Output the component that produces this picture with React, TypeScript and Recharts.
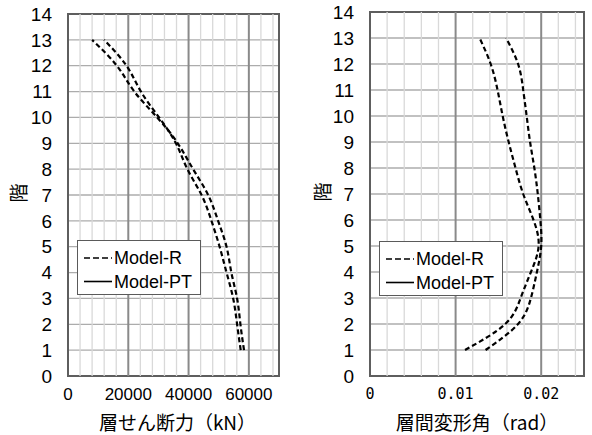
import React from 'react'
import {
  LineChart, Line, XAxis, YAxis, CartesianGrid, ReferenceLine, ReferenceArea, Legend,
} from 'recharts'

// floors 1..13
const floors = [1, 2, 3, 4, 5, 6, 7, 8, 9, 10, 11, 12, 13]
const floorTicks = [0, 1, 2, 3, 4, 5, 6, 7, 8, 9, 10, 11, 12, 13, 14]
const seriesNames = ['Model-R', 'Model-PT']

// story shear (kN)
const shearModelR = [58400, 57200, 56100, 54200, 52600, 49800, 46500, 41500, 36400, 29600, 22000, 16200, 8000]
const shearModelPT = [57300, 56100, 54800, 52600, 50300, 47600, 44300, 39600, 35800, 30200, 24200, 19400, 12000]
const shearTicks = [0, 20000, 40000, 60000]
const shearMajor = [20000, 40000, 60000]
const shearMinor = [4000, 8000, 12000, 16000, 24000, 28000, 32000, 36000, 44000, 48000, 52000, 56000, 64000, 68000]

// story drift angle (rad)
const driftModelR = [0.0111, 0.0158, 0.0176, 0.0188, 0.0197, 0.0191, 0.0179, 0.0170, 0.0162, 0.0155, 0.0149, 0.0141, 0.0128]
const driftModelPT = [0.0135, 0.0173, 0.0188, 0.0195, 0.0200, 0.0199, 0.0196, 0.0192, 0.0187, 0.0183, 0.0179, 0.0173, 0.0159]
const driftTicks = [0, 0.01, 0.02]
const driftMajor = [0.01, 0.02]
const driftMinor = [0.002, 0.004, 0.006, 0.008, 0.012, 0.014, 0.016, 0.018, 0.022, 0.024]

const shearRows = floors.map((f, i) => ({ floor: f, modelR: shearModelR[i], modelPT: shearModelPT[i] }))
const driftRows = floors.map((f, i) => ({ floor: f, modelR: driftModelR[i], modelPT: driftModelPT[i] }))

const JP = '"Noto Sans CJK JP", sans-serif'
const legendDash = ['6 3', undefined]

const LegendBox = () => (
  <div style={{ width: 122, height: 53, border: '1.5px solid #5a5a5a', background: '#fff' }}>
    <svg width={122} height={53} style={{ display: 'block' }}>
      {seriesNames.map((name, i) => (
        <g key={name}>
          <line x1={6} x2={34} y1={17 + i * 23.5} y2={17 + i * 23.5} stroke="#000" strokeWidth={1.6}
            strokeDasharray={legendDash[i]} />
          <text x={36} y={17 + i * 23.5} dy="0.36em" fontSize={18}
            fontFamily='"Liberation Sans", Arial, sans-serif' fill="#000">{name}</text>
        </g>
      ))}
    </svg>
  </div>
)

const floorTitle = (dx: number) => (p: any) => {
  const vb = p.viewBox || { x: 0, y: 0, width: 0, height: 0 }
  const cx = vb.x + dx
  const cy = vb.y + vb.height / 2 - 2
  return (
    <text x={cx} y={cy} transform={`rotate(-90 ${cx} ${cy})`} textAnchor="middle" dominantBaseline="central"
      fontSize={19} fontFamily={JP} fill="#000">階</text>
  )
}

type PanelProps = {
  rows: any[]
  left: number
  width: number
  top: number
  right: number
  yWidth: number
  xMax: number
  xTicks: number[]
  major: number[]
  minor: number[]
  xFormat: (v: number) => string
  xFont: any
  xTitle: string
  titleShift: number
  legendPos: { left: number, top: number }
}

function Panel(p: PanelProps) {
  return (
    <div style={{ position: 'absolute', left: p.left, top: 0 }}>
      <LineChart layout="vertical" width={p.width} height={435} data={p.rows}
        margin={{ top: p.top, right: p.right, bottom: 0, left: 0 }}>
        <CartesianGrid vertical={false} stroke="#acacac" strokeWidth={1.3} />
        {p.minor.map(v => <ReferenceLine key={'m' + v} x={v} stroke="#d9d9d9" strokeWidth={1.3} />)}
        {p.major.map(v => <ReferenceLine key={'M' + v} x={v} stroke="#8a8a8a" strokeWidth={2} />)}
        <XAxis type="number" domain={[0, p.xMax]} ticks={p.xTicks} interval={0} height={59}
          axisLine={false} tickLine={false} tickMargin={6} tickFormatter={p.xFormat}
          tick={{ fill: '#000', ...p.xFont }}
          label={{ value: p.xTitle, position: 'insideBottom', offset: 5, dx: p.titleShift,
            style: { fontSize: 19, fill: '#000', fontFamily: JP } }} />
        <YAxis type="number" dataKey="floor" domain={[0, 14]} ticks={floorTicks} interval={0} width={p.yWidth}
          reversed axisLine={false} tickLine={false} tickMargin={10}
          tick={{ fill: '#000', fontSize: 19, fontFamily: '"Liberation Sans", Arial, sans-serif' }}
          label={{ content: floorTitle(p.yWidth === 68 ? 17 : 21) }} />
        <ReferenceArea x1={0} x2={p.xMax} y1={0} y2={14} fill="none" fillOpacity={0}
          stroke="#5e5e5e" strokeWidth={2} />
        <Line dataKey="modelR" name={seriesNames[0]} type="natural" stroke="#000" strokeWidth={2.2}
          strokeDasharray="5 3" dot={false} isAnimationActive={false} />
        <Line dataKey="modelPT" name={seriesNames[1]} type="natural" stroke="#000" strokeWidth={2.2}
          strokeDasharray="5 3" dot={false} isAnimationActive={false} />
        <Legend layout="vertical" align="center" verticalAlign="middle" content={LegendBox}
          wrapperStyle={{ left: p.legendPos.left, top: p.legendPos.top, width: 125, height: 56 }} />
      </LineChart>
    </div>
  )
}

export default function App() {
  return (
    <div style={{ position: 'absolute', left: 0, top: 0, width: 592, height: 435, background: '#fff' }}>
      <Panel rows={shearRows} left={0} width={300} top={14} right={21} yWidth={68}
        xMax={70000} xTicks={shearTicks} major={shearMajor} minor={shearMinor}
        xFormat={(v) => String(v)}
        xFont={{ fontSize: 17, fontFamily: '"Liberation Sans Narrow", "Liberation Sans", sans-serif' }}
        xTitle="層せん断力（kN）" titleShift={4} legendPos={{ left: 77, top: 240 }} />
      <Panel rows={driftRows} left={300} width={292} top={12} right={8} yWidth={70}
        xMax={0.025} xTicks={driftTicks} major={driftMajor} minor={driftMinor}
        xFormat={(v) => (v === 0 ? '0' : v.toFixed(2))}
        xFont={{ fontSize: 15, fontFamily: '"DejaVu Sans Mono", monospace' }}
        xTitle="層間変形角（rad）" titleShift={0} legendPos={{ left: 79, top: 241 }} />
    </div>
  )
}
